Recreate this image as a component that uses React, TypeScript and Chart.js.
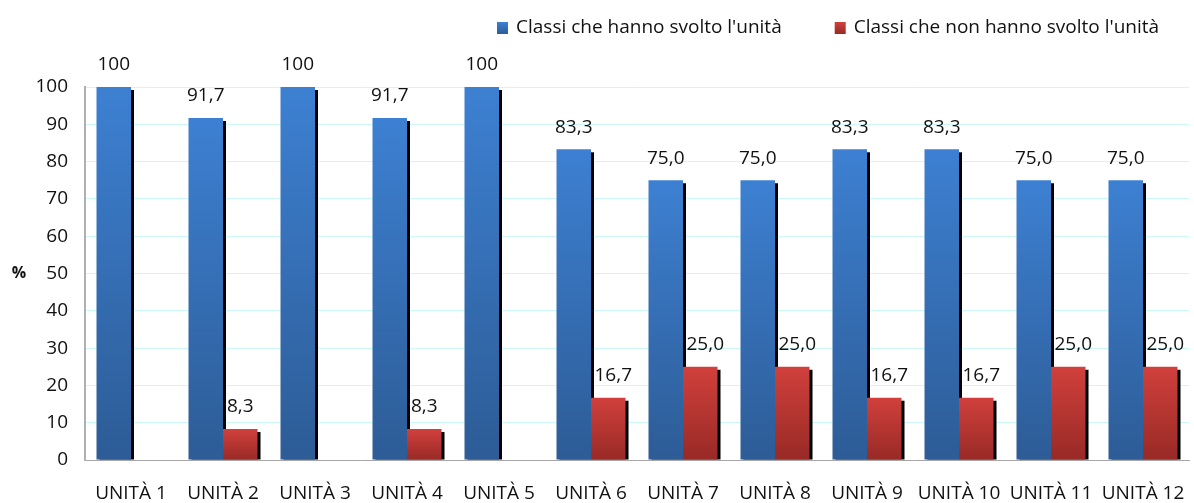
import React, { useEffect, useRef } from "react";
import { Chart, registerables } from "chart.js";

Chart.register(...registerables);

const categories = [
  "UNITÀ 1", "UNITÀ 2", "UNITÀ 3", "UNITÀ 4", "UNITÀ 5", "UNITÀ 6",
  "UNITÀ 7", "UNITÀ 8", "UNITÀ 9", "UNITÀ 10", "UNITÀ 11", "UNITÀ 12",
];
const svolto = [100, 91.7, 100, 91.7, 100, 83.3, 75.0, 75.0, 83.3, 83.3, 75.0, 75.0];
const nonSvolto = [null, 8.3, null, 8.3, null, 16.7, 25.0, 25.0, 16.7, 16.7, 25.0, 25.0];
const seriesNames = ["Classi che hanno svolto l'unità", "Classi che non hanno svolto l'unità"];
const yMin = 0;
const yMax = 100;
const yStep = 10;

const FONT = "'Open Sans', sans-serif";
const FS = 19;
const BLUE_TOP = "#3d80d2";
const BLUE_BOTTOM = "#2d5c96";
const RED_TOP = "#d1403c";
const RED_BOTTOM = "#982a26";

const gradient = (top: string, bottom: string) => (ctx: any) => {
  const chart = ctx.chart;
  const ys = chart.scales && chart.scales.y;
  const v = ctx.raw;
  if (!ys || v == null) return top;
  const y0 = ys.getPixelForValue(v);
  const y1 = ys.getPixelForValue(0);
  if (!isFinite(y0) || !isFinite(y1) || y1 - y0 < 1) return top;
  const g = chart.ctx.createLinearGradient(0, y0, 0, y1);
  g.addColorStop(0, top);
  g.addColorStop(1, bottom);
  return g;
};

const fmt = (v: number) => (v === 100 ? "100" : v.toFixed(1).replace(".", ","));

const shadowPlugin = {
  id: "barShadow",
  beforeDatasetsDraw(chart: any) {
    const c = chart.ctx;
    c.save();
    c.fillStyle = "#000";
    chart.data.datasets.forEach((ds: any, i: number) => {
      const meta = chart.getDatasetMeta(i);
      meta.data.forEach((el: any, j: number) => {
        if (ds.data[j] == null) return;
        const p = el.getProps(["x", "y", "base", "width"], true);
        c.fillRect(p.x - p.width / 2 + 3, p.y + 3, p.width, p.base - p.y - 3);
      });
    });
    c.restore();
  },
};

const labelPlugin = {
  id: "valueLabels",
  afterDatasetsDraw(chart: any) {
    const c = chart.ctx;
    c.save();
    c.font = `${FS}px ${FONT}`;
    c.fillStyle = "#111";
    c.textAlign = "center";
    c.textBaseline = "middle";
    chart.data.datasets.forEach((ds: any, i: number) => {
      const meta = chart.getDatasetMeta(i);
      meta.data.forEach((el: any, j: number) => {
        const v = ds.data[j];
        if (v == null) return;
        const p = el.getProps(["x", "y"], true);
        const dx = i === 1 && v >= 10 ? 5 : 0;
        c.fillText(fmt(v), p.x + dx, p.y - 22);
      });
    });
    c.restore();
  },
};

const legendAndTitlePlugin = {
  id: "customLegend",
  afterDraw(chart: any) {
    const c = chart.ctx;
    c.save();
    c.font = `${FS}px ${FONT}`;
    c.textBaseline = "middle";
    c.textAlign = "left";
    const colors = [[BLUE_TOP, BLUE_BOTTOM], [RED_TOP, RED_BOTTOM]];
    let x = 497;
    const yMid = 28;
    chart.data.datasets.forEach((ds: any, i: number) => {
      const g = c.createLinearGradient(0, yMid - 6, 0, yMid + 6);
      g.addColorStop(0, colors[i][0]);
      g.addColorStop(1, colors[i][1]);
      c.fillStyle = g;
      c.fillRect(x, yMid - 6, 11, 12);
      c.fillStyle = "#111";
      c.fillText(ds.label, x + 19, yMid);
      x += 19 + c.measureText(ds.label).width + 53;
    });
    c.font = `bold 16px ${FONT}`;
    c.textAlign = "center";
    c.fillText("%", 19, 273);
    c.restore();
  },
};

export default function App() {
  const ref = useRef<HTMLCanvasElement>(null);
  useEffect(() => {
    if (!ref.current) return;
    const chart = new Chart(ref.current, {
      type: "bar",
      data: {
        labels: categories,
        datasets: [
          {
            label: seriesNames[0],
            data: svolto,
            backgroundColor: gradient(BLUE_TOP, BLUE_BOTTOM),
            categoryPercentage: 0.75,
            barPercentage: 1,
          },
          {
            label: seriesNames[1],
            data: nonSvolto,
            backgroundColor: gradient(RED_TOP, RED_BOTTOM),
            categoryPercentage: 0.75,
            barPercentage: 1,
          },
        ],
      },
      options: {
        responsive: false,
        animation: false,
        layout: { padding: { left: 0, top: 87, right: 5, bottom: 0 } },
        plugins: {
          legend: { display: false },
          tooltip: { enabled: false },
          title: { display: false },
        },
        scales: {
          x: {
            grid: { display: false, drawTicks: false },
            border: { display: true, color: "#a6a6a6", width: 1 },
            ticks: {
              padding: 22,
              color: "#111",
              font: { family: FONT, size: FS },
              maxRotation: 0,
              autoSkip: false,
            },
            afterFit: (s: any) => {
              s.height = 43;
              s.paddingLeft = 0;
              s.paddingRight = 0;
            },
          },
          y: {
            min: yMin,
            max: yMax,
            grid: { color: "#ccf8f8", drawTicks: false, lineWidth: 1 },
            border: { display: true, color: "#b0b0b0", width: 2 },
            ticks: {
              stepSize: yStep,
              padding: 17,
              color: "#111",
              font: { family: FONT, size: FS },
            },
            afterFit: (s: any) => {
              s.width = 85;
              s.paddingTop = 0;
              s.paddingBottom = 0;
            },
          },
        },
      },
      plugins: [shadowPlugin, labelPlugin, legendAndTitlePlugin],
    });
    return () => chart.destroy();
  }, []);
  return (
    <div style={{ position: "fixed", left: 0, top: 0, width: 1194, height: 503, background: "#fff" }}>
      <canvas ref={ref} width={1194} height={503} style={{ display: "block" }} />
    </div>
  );
}
